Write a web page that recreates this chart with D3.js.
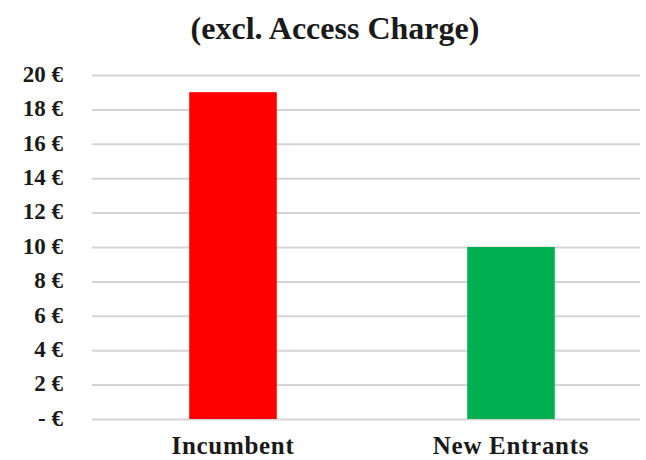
<!DOCTYPE html>
<html lang="en">
<head>
<meta charset="UTF-8">
<title>excl. Access Charge</title>
<script src="https://cdn.jsdelivr.net/npm/d3@7"></script>
<style>
	body{ margin:0; background:#fff; }
	text{ font-family: "Liberation Serif", "Times New Roman", serif; font-weight: bold; fill: #1a1a1a; }
	.domain{ display:none; }
	.grid line{ stroke: #d4d4d4; stroke-width: 2px; }
</style>
</head>
<body>
<div id="main"></div>
<script>
	var categories = ["Incumbent", "New Entrants"];
	var values = [19, 10];
	var colours = ["#ff0000", "#00b050"];
	var tickValues = [0, 2, 4, 6, 8, 10, 12, 14, 16, 18, 20];
	var title = "(excl. Access Charge)";

	var width = 646,
		height = 460,
		margin = {left: 92, top: 75, right: 6, bottom: 41};

	var svg = d3.select("#main").append("svg")
		.attr("width", width)
		.attr("height", height);

	// Excel-style: each category gets half the width, bar ~31% of it
	var x = d3.scaleBand()
		.domain(categories)
		.range([94, 650])
		.paddingInner(0.685)
		.paddingOuter(0.3425);

	var y = d3.scaleLinear()
		.domain([0, 20])
		.range([height - margin.bottom, margin.top]);

	svg.append("text")
		.attr("x", 335)
		.attr("y", 39)
		.attr("text-anchor", "middle")
		.style("font-size", "32px")
		.text(title);

	var yAx = d3.axisLeft(y)
		.tickValues(tickValues)
		.tickSizeInner(-(width - margin.right - margin.left))
		.tickSizeOuter(0)
		.tickPadding(29)
		.tickFormat(function(d){ return d === 0 ? "- €" : d + " €"; });

	var yAxis = svg.append("g")
		.attr("class", "grid")
		.attr("transform", "translate(" + margin.left + ",0)")
		.call(yAx);

	yAxis.selectAll("text")
		.attr("dy", "0.27em")
		.style("font-size", "23px");

	svg.selectAll("rect.bar")
		.data(values)
		.enter()
		.append("rect")
		.attr("class", "bar")
		.attr("x", function(d, i){ return x(categories[i]); })
		.attr("width", x.bandwidth())
		.attr("y", function(d){ return y(d); })
		.attr("height", function(d){ return y(0) - y(d); })
		.style("fill", function(d, i){ return colours[i]; });

	svg.selectAll("text.cat")
		.data(categories)
		.enter()
		.append("text")
		.attr("class", "cat")
		.attr("x", function(d){ return x(d) + x.bandwidth() / 2; })
		.attr("y", 454)
		.attr("text-anchor", "middle")
		.style("font-size", "25px")
		.style("letter-spacing", "0.7px")
		.text(function(d){ return d; });
</script>
</body>
</html>
